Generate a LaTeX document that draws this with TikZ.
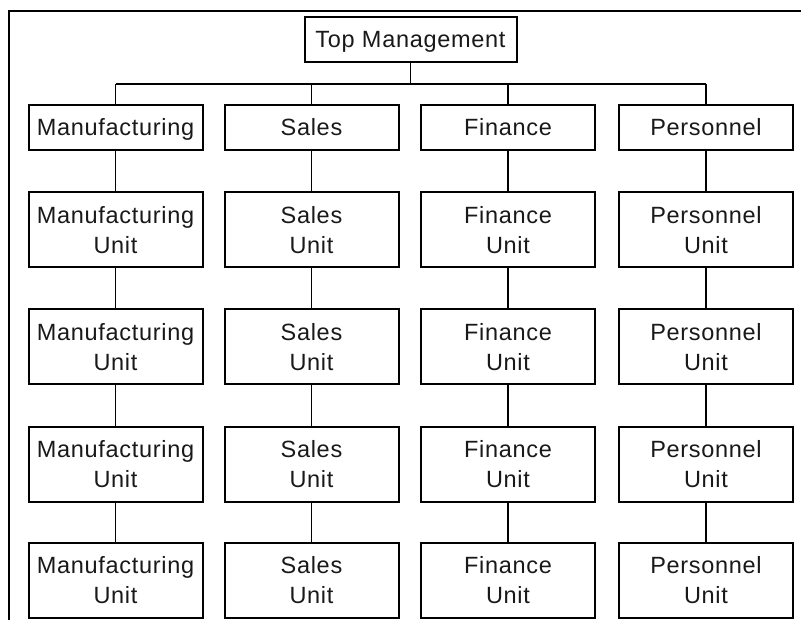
\documentclass[tikz,border=0pt]{standalone}
\usepackage{fontspec}
\setmainfont{Liberation Sans}[LetterSpace=3]
\begin{document}
\begin{tikzpicture}[x=1pt,y=-1pt,
  box/.style={draw=black,line width=2pt,inner sep=0pt,align=center,
    font=\fontsize{23.5}{29.5}\selectfont,text=black!90},
  unitbox/.style={box,minimum width=174pt,minimum height=75pt},
  headbox/.style={box,minimum width=174pt,minimum height=45pt,text height=19pt,text depth=3pt},
  conn/.style={draw=black,line width=1.8pt}]
\useasboundingbox (0,0) rectangle (801,620);
\fill[white] (0,0) rectangle (801,620);
% outer frame (right and bottom lie beyond the picture)
\coordinate (frBL) at (9,620);
\coordinate (frTL) at (9,11);
\coordinate (frTR) at (801,11);
\draw[conn] (frBL) -- (frTL) -- (frTR);
% top
\node[headbox,minimum width=212pt] (top) at (410.5,40) {Top Management};
% heads
\node[headbox] (m1) at (115.5,128) {Manufacturing};
\node[headbox] (s1) at (311.5,128) {Sales};
\node[headbox] (f1) at (508,128) {Finance};
\node[headbox] (p1) at (706,128) {Personnel};
% units
\foreach \r/\y in {2/230,3/347,4/464,5/580}{
  \node[unitbox] (m\r) at (115.5,\y) {Manufacturing\\Unit};
  \node[unitbox] (s\r) at (311.5,\y) {Sales\\Unit};
  \node[unitbox] (f\r) at (508,\y) {Finance\\Unit};
  \node[unitbox] (p\r) at (706,\y) {Personnel\\Unit};
}
% bus
\coordinate (busL) at (115.5,84);
\coordinate (busR) at (706,84);
\draw[conn] (top.south) -- (top.south |- busL);
\draw[conn] (busL) -- (busR);
\foreach \c in {m,s,f,p}{
  \draw[conn] (\c1.north |- busL) -- (\c1.north);
  \draw[conn] (\c1.south) -- (\c2.north);
  \draw[conn] (\c2.south) -- (\c3.north);
  \draw[conn] (\c3.south) -- (\c4.north);
  \draw[conn] (\c4.south) -- (\c5.north);
}
\end{tikzpicture}
\end{document}
